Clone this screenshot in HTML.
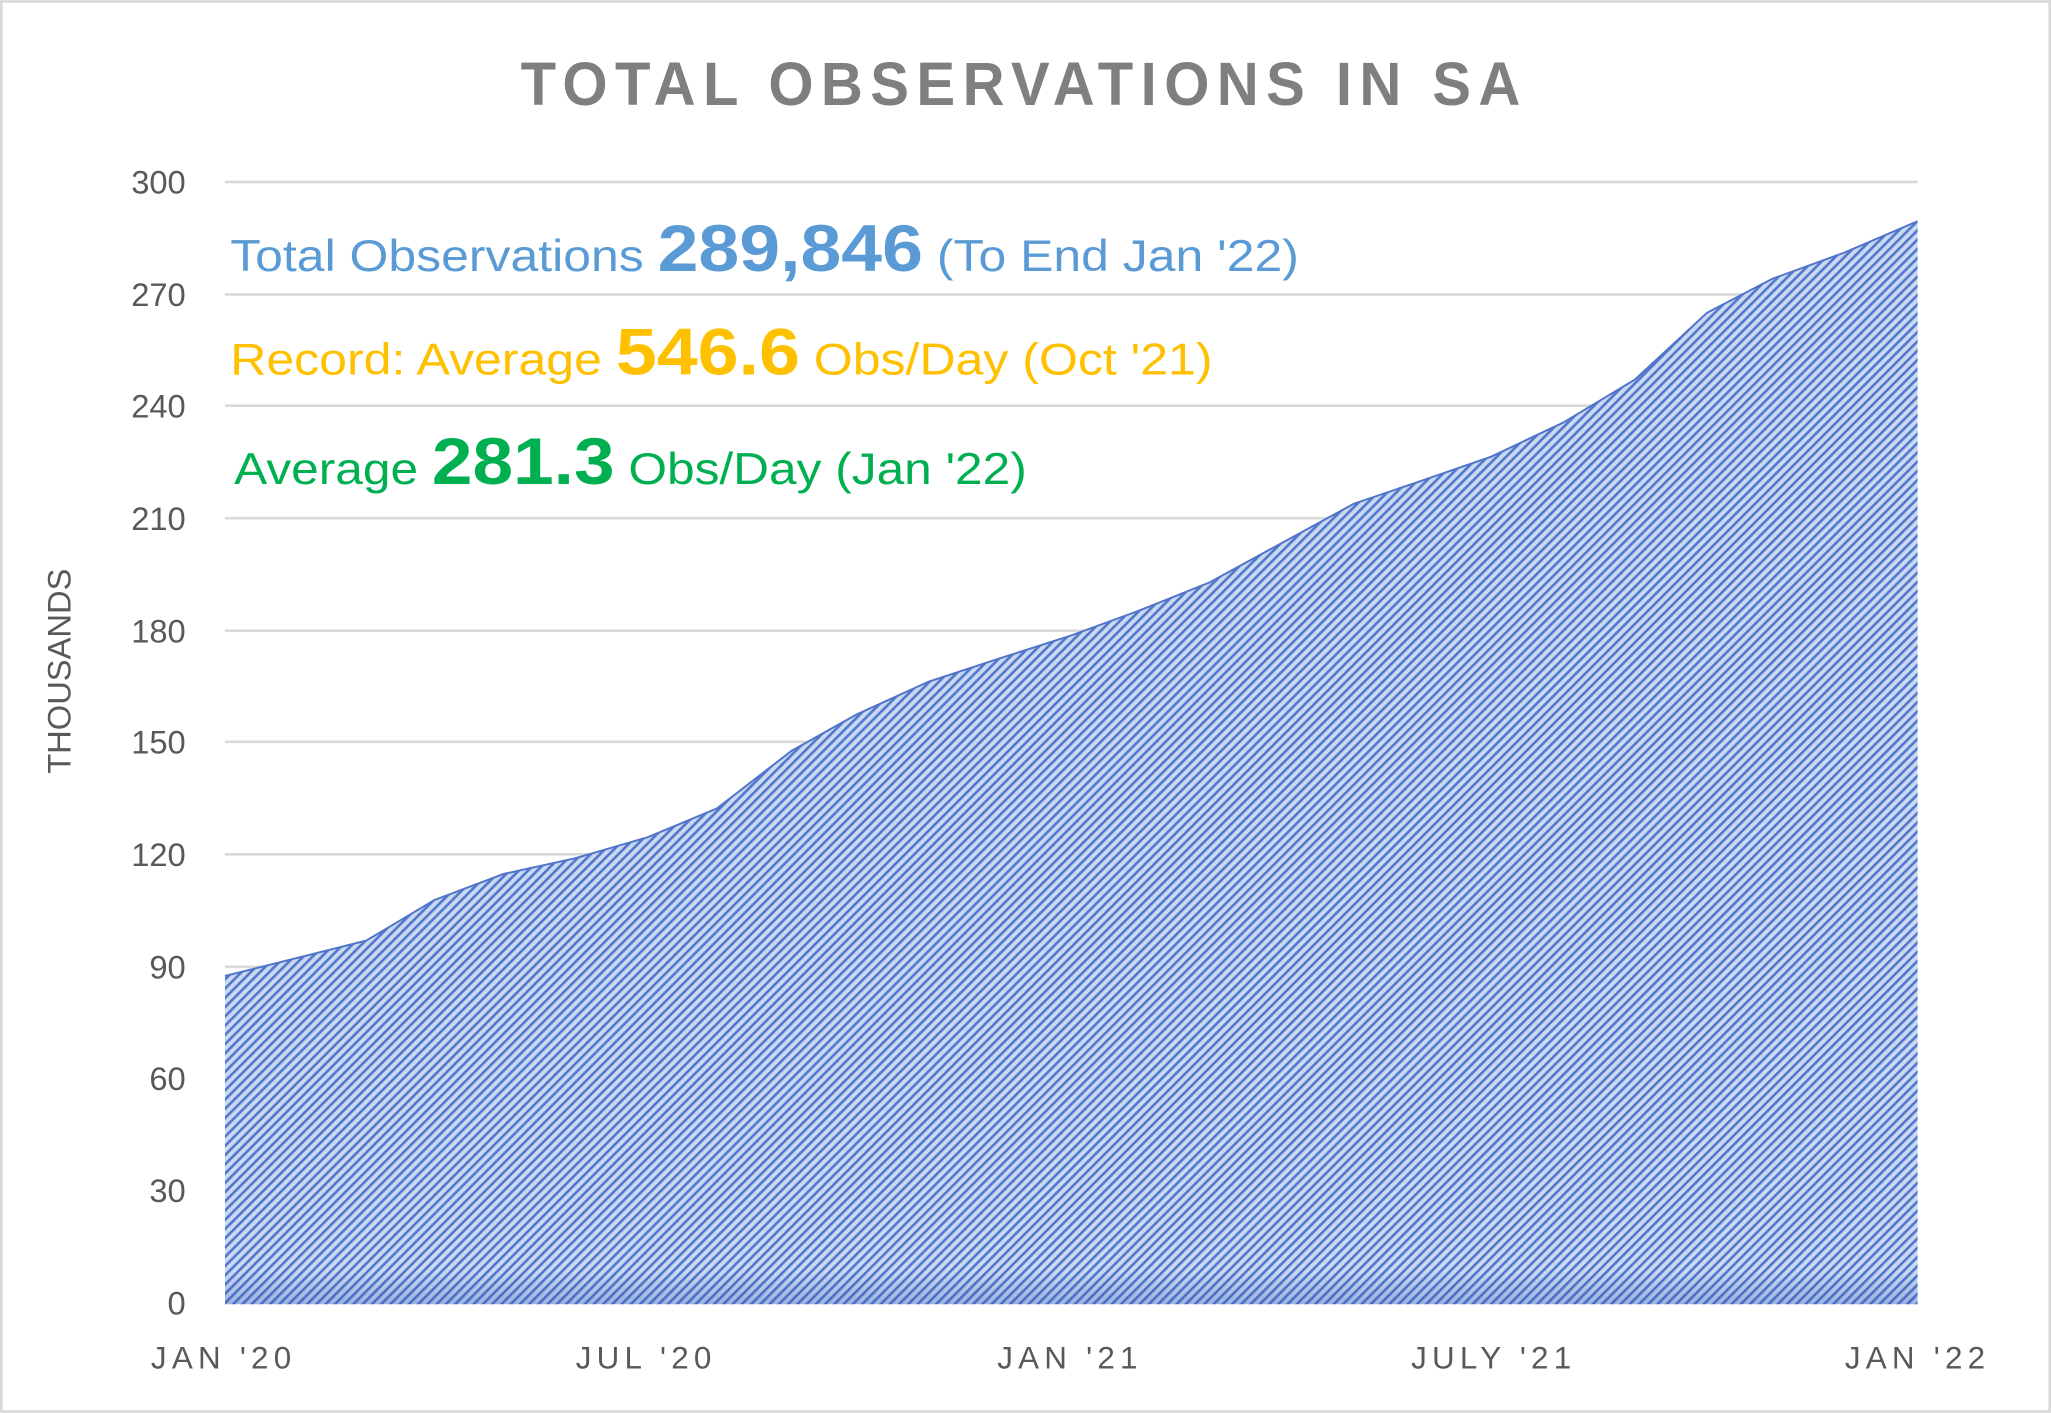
<!DOCTYPE html>
<html><head><meta charset="utf-8"><style>html,body{margin:0;padding:0;background:#fff}svg{display:block}</style></head>
<body>
<svg width="2051" height="1413" viewBox="0 0 1568 1080" xmlns="http://www.w3.org/2000/svg" font-family="Liberation Sans, sans-serif">
<defs>
<pattern id="h" width="5" height="5" patternUnits="userSpaceOnUse" patternTransform="rotate(45)">
<rect width="5" height="5" fill="#cbd8f1"/>
<rect width="2" height="5" fill="#5078cc"/>
</pattern>
<linearGradient id="g" x1="0" y1="0" x2="0" y2="1">
<stop offset="0.97" stop-color="#2f56b0" stop-opacity="0"/>
<stop offset="1" stop-color="#2f56b0" stop-opacity="0.3"/>
</linearGradient>
</defs>
<rect x="1" y="1" width="1566" height="1078" fill="#fff" stroke="#d9d9d9" stroke-width="2"/>
<text x="783" y="80" text-anchor="middle" font-size="47" font-weight="bold" fill="#7f7f7f" letter-spacing="6" textLength="770" lengthAdjust="spacingAndGlyphs">TOTAL OBSERVATIONS IN SA</text>
<g stroke="#d9d9d9" stroke-width="2">
<line x1="172" x2="1466" y1="139" y2="139"/><line x1="172" x2="1466" y1="225" y2="225"/>
<line x1="172" x2="1466" y1="310" y2="310"/><line x1="172" x2="1466" y1="396" y2="396"/>
<line x1="172" x2="1466" y1="482" y2="482"/><line x1="172" x2="1466" y1="567" y2="567"/>
<line x1="172" x2="1466" y1="653" y2="653"/><line x1="172" x2="1466" y1="739" y2="739"/>
<line x1="172" x2="1466" y1="824" y2="824"/><line x1="172" x2="1466" y1="910" y2="910"/>
</g>
<g font-size="25" fill="#595959" text-anchor="end">
<text x="142" y="148">300</text><text x="142" y="234">270</text><text x="142" y="319">240</text>
<text x="142" y="405">210</text><text x="142" y="491">180</text><text x="142" y="576">150</text>
<text x="142" y="662">120</text><text x="142" y="748">90</text><text x="142" y="833">60</text>
<text x="142" y="919">30</text><text x="142" y="1005">0</text>
</g>
<path d="M172,746 L280,719 L332,688 L385,668 L440,656 L495,640 L548,618 L605,574 L655,546 L710,521 L765,503 L818,486 L870,467 L925,445 L980,415 L1035,385 L1085,368 L1140,349 L1195,323 L1250,290 L1305,239 L1355,213 L1410,193 L1466,169 L1466,997 L172,997 Z" fill="url(#h)"/>
<path d="M172,746 L280,719 L332,688 L385,668 L440,656 L495,640 L548,618 L605,574 L655,546 L710,521 L765,503 L818,486 L870,467 L925,445 L980,415 L1035,385 L1085,368 L1140,349 L1195,323 L1250,290 L1305,239 L1355,213 L1410,193 L1466,169 L1466,997 L172,997 Z" fill="url(#g)"/>
<path d="M172,746 L280,719 L332,688 L385,668 L440,656 L495,640 L548,618 L605,574 L655,546 L710,521 L765,503 L818,486 L870,467 L925,445 L980,415 L1035,385 L1085,368 L1140,349 L1195,323 L1250,290 L1305,239 L1355,213 L1410,193 L1466,169" fill="none" stroke="#4f74c9" stroke-width="1.5"/>
<g font-size="24" fill="#595959" text-anchor="middle" letter-spacing="4">
<text x="171" y="1046">JAN '20</text><text x="494" y="1046">JUL '20</text>
<text x="818" y="1046">JAN '21</text><text x="1142" y="1046">JULY '21</text>
<text x="1466" y="1046">JAN '22</text>
</g>
<text transform="translate(54,513) rotate(-90)" font-size="25" fill="#595959" text-anchor="middle">THOUSANDS</text>
<text x="176" y="207" fill="#5b9bd5" font-size="34" textLength="817" lengthAdjust="spacingAndGlyphs">Total Observations <tspan font-size="50" font-weight="bold">289,846</tspan> (To End Jan '22)</text>
<text x="176" y="286" fill="#ffc000" font-size="34" textLength="751" lengthAdjust="spacingAndGlyphs">Record: Average <tspan font-size="50" font-weight="bold">546.6</tspan> Obs/Day (Oct '21)</text>
<text x="179" y="370" fill="#00b050" font-size="34" textLength="606" lengthAdjust="spacingAndGlyphs">Average <tspan font-size="50" font-weight="bold">281.3</tspan> Obs/Day (Jan '22)</text>
</svg>
</body></html>
